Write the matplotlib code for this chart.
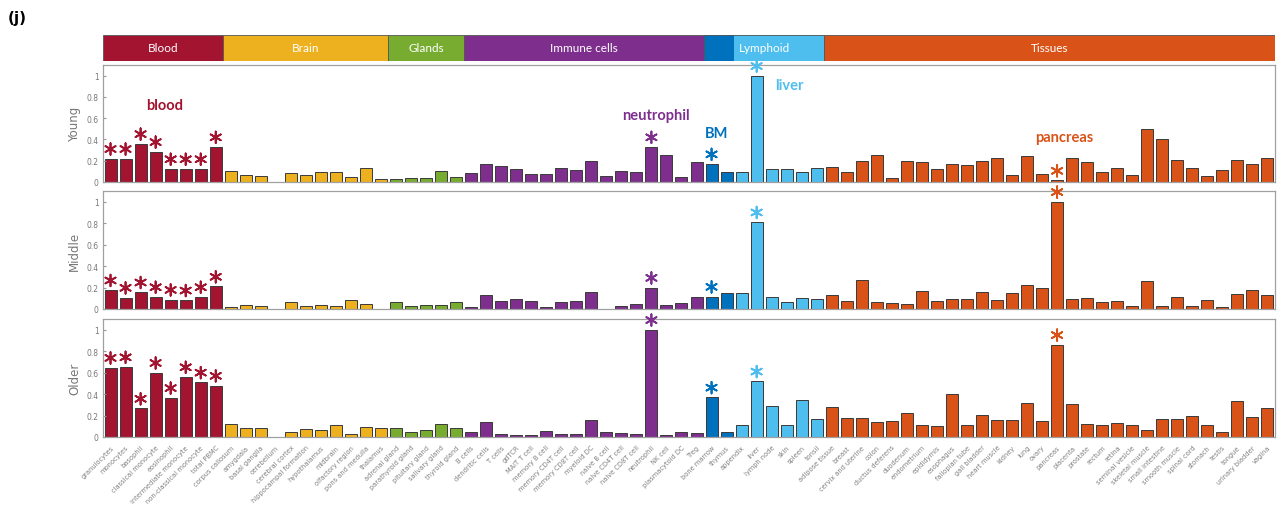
import matplotlib
matplotlib.use("Agg")
import matplotlib.pyplot as plt
import numpy as np

# ---- categories -----------------------------------------------------------
blood_cats = ["granulocytes", "monocytes", "basophil", "classical monocyte",
              "eosinophil", "intermediate monocyte", "non-classical monocyte",
              "total PBMC"]
brain_cats = ["corpus callosum", "amygdala", "basal ganglia", "cerebellum",
              "cerebral cortex", "hippocampal formation", "hypothalamus",
              "midbrain", "olfactory region", "pons and medulla", "thalamus"]
gland_cats = ["adrenal gland", "parathyroid gland", "pituitary gland",
              "salivary gland", "thyroid gland"]
immune_cats = ["B cells", "dendritic cells", "T cells", "gdTCR", "MAIT T cell",
               "memory B cell", "memory CD4T cell", "memory CD8T cell",
               "myeloid DC", "naive B cell", "naive CD4T cell", "naive CD8T cell",
               "neutrophil", "NK cell", "plasmacytoid DC", "Treg"]
lymphoid_cats = ["bone marrow", "thymus", "appendix", "liver", "lymph node",
                 "skin", "spleen", "tonsil"]
tissue_cats = ["adipose tissue", "breast", "cervix and uterine", "colon",
               "ductus deferens", "duodenum", "endometrium", "epididymis",
               "esophagus", "fallopian tube", "gall bladder", "heart muscle",
               "kidney", "lung", "ovary", "pancreas", "placenta", "prostate",
               "rectum", "retina", "seminal vesicle", "skeletal muscle",
               "small intestine", "smooth muscle", "spinal cord", "stomach",
               "testis", "tongue", "urinary bladder", "vagina"]

group_names = ["Blood", "Brain", "Glands", "Immune cells", "Lymphoid", "Tissues"]
group_cats = [blood_cats, brain_cats, gland_cats, immune_cats, lymphoid_cats, tissue_cats]
categories = [c for g in group_cats for c in g]

# ---- normalised values per age group ---------------------------------------
young = ([0.22, 0.22, 0.36, 0.285, 0.124, 0.124, 0.124, 0.33] +
         [0.10, 0.07, 0.06, 0.0, 0.08, 0.07, 0.09, 0.09, 0.05, 0.13, 0.025] +
         [0.028, 0.04, 0.04, 0.10, 0.05] +
         [0.08, 0.17, 0.15, 0.12, 0.075, 0.075, 0.13, 0.115, 0.20, 0.06, 0.105,
          0.09, 0.33, 0.25, 0.05, 0.19] +
         [0.17, 0.09, 0.09, 1.0, 0.12, 0.12, 0.09, 0.135] +
         [0.14, 0.09, 0.195, 0.25, 0.04, 0.195, 0.185, 0.124, 0.17, 0.164,
          0.195, 0.23, 0.068, 0.24, 0.077, 0.015, 0.23, 0.19, 0.09, 0.136,
          0.065, 0.50, 0.40, 0.21, 0.127, 0.053, 0.115, 0.21, 0.17, 0.23])

middle = ([0.176, 0.107, 0.157, 0.113, 0.088, 0.082, 0.113, 0.21] +
          [0.016, 0.04, 0.03, 0.0, 0.063, 0.03, 0.04, 0.03, 0.088, 0.05, 0.0] +
          [0.063, 0.03, 0.04, 0.04, 0.066] +
          [0.016, 0.13, 0.072, 0.09, 0.079, 0.019, 0.069, 0.075, 0.157, 0.0,
           0.025, 0.047, 0.20, 0.04, 0.053, 0.116] +
          [0.116, 0.15, 0.15, 0.81, 0.113, 0.063, 0.10, 0.09] +
          [0.13, 0.07, 0.27, 0.063, 0.057, 0.047, 0.17, 0.07, 0.097, 0.09,
           0.163, 0.082, 0.148, 0.226, 0.195, 1.0, 0.097, 0.10, 0.063, 0.079,
           0.03, 0.26, 0.03, 0.113, 0.03, 0.085, 0.016, 0.14, 0.18, 0.135])

older = ([0.647, 0.653, 0.266, 0.60, 0.366, 0.56, 0.51, 0.48] +
         [0.122, 0.084, 0.084, 0.0, 0.047, 0.075, 0.066, 0.116, 0.025, 0.097, 0.084] +
         [0.0875, 0.047, 0.066, 0.125, 0.084] +
         [0.05, 0.137, 0.03, 0.019, 0.022, 0.053, 0.025, 0.025, 0.163, 0.05,
          0.04, 0.028, 1.0, 0.018, 0.044, 0.038] +
         [0.37, 0.044, 0.116, 0.52, 0.29, 0.116, 0.344, 0.17] +
         [0.278, 0.18, 0.18, 0.14, 0.15, 0.22, 0.11, 0.10, 0.40, 0.11, 0.206,
          0.16, 0.16, 0.32, 0.147, 0.86, 0.306, 0.122, 0.11, 0.134, 0.11,
          0.066, 0.17, 0.17, 0.20, 0.116, 0.05, 0.334, 0.184, 0.266])

panel_names = ["Young", "Middle", "Older"]
panel_values = [young, middle, older]

# categories marked with an asterisk (same in every age group)
starred = blood_cats + ["neutrophil", "bone marrow", "liver", "pancreas"]

# ---- colours -----------------------------------------------------------------
group_colors = ["#A2142F", "#EDB120", "#77AC30", "#7E2F8E", "#4DBEEE", "#D95319"]
bm_color = "#0072BD"          # bone marrow and thymus
dark_lymphoid = ["bone marrow", "thymus"]

bar_colors = []
for gc, cats in zip(group_colors, group_cats):
    for c in cats:
        bar_colors.append(bm_color if c in dark_lymphoid else gc)

n = len(categories)
x = np.arange(n)

W, H = 1283, 510
fig = plt.figure(figsize=(W / 100, H / 100), dpi=100)
left, width = 103 / W, 1172 / W

def fy(top_px, bottom_px):
    return [left, 1 - bottom_px / H, width, (bottom_px - top_px) / H]

# ---- group header strip ------------------------------------------------------
hax = fig.add_axes(fy(36, 62))
start = -0.5
for name, cats, gc in zip(group_names, group_cats, group_colors):
    end = start + len(cats)
    if name == "Lymphoid":
        k = len(dark_lymphoid)
        hax.add_patch(plt.Rectangle((start, 0), k, 1, facecolor=bm_color,
                                    edgecolor="none"))
        hax.add_patch(plt.Rectangle((start + k, 0), len(cats) - k, 1,
                                    facecolor=gc, edgecolor="none"))
        hax.add_patch(plt.Rectangle((start, 0), len(cats), 1, facecolor="none",
                                    edgecolor="#555555", lw=0.6))
    else:
        hax.add_patch(plt.Rectangle((start, 0), len(cats), 1, facecolor=gc,
                                    edgecolor="#555555", lw=0.6))
    hax.text((start + end) / 2, 0.5, name, ha="center", va="center",
             color="white", fontsize=8.5, family="Lato")
    start = end
hax.set_xlim(-0.5, n - 0.5)
hax.set_ylim(0, 1)
hax.axis("off")

# ---- bar panels --------------------------------------------------------------
panel_px = [(66, 183), (192, 310), (320, 438)]
star_colors = {c: bar_colors[categories.index(c)] for c in starred}

axes = []
for (t, b), name, vals in zip(panel_px, panel_names, panel_values):
    ax = fig.add_axes(fy(t, b))
    ax.bar(x, vals, width=0.8, color=bar_colors, edgecolor="#3a3a3a",
           linewidth=0.7)
    sx = [categories.index(c) for c in starred]
    sy = [vals[i] + 0.09 for i in sx]
    ax.scatter(sx, sy, marker=(6, 2, 0), s=70, linewidths=1.3,
               c=[star_colors[c] for c in starred], zorder=5, clip_on=False)
    ax.set_xlim(-0.5, n - 0.5)
    ax.set_ylim(0, 1.1)
    ax.set_yticks([0, 0.2, 0.4, 0.6, 0.8, 1])
    ax.set_yticklabels(["0", "0.2", "0.4", "0.6", "0.8", "1"])
    ax.tick_params(axis="y", labelsize=5.5, labelcolor="#777777", length=2,
                   direction="in", color="#999999", pad=3)
    ax.tick_params(axis="x", length=0)
    ax.set_ylabel(name, fontsize=8.5, color="#777777", labelpad=4)
    for sp in ax.spines.values():
        sp.set_color("#a0a0a0")
        sp.set_linewidth(0.9)
    ax.set_xticks(x)
    if name == "Older":
        ax.set_xticklabels(categories, rotation=45, ha="right",
                           rotation_mode="anchor", fontsize=4.8,
                           color="#808080")
        ax.tick_params(axis="x", pad=5)
    else:
        ax.set_xticklabels([])
    axes.append(ax)

# ---- annotations on the top panel -------------------------------------------
ay = axes[0]
lab_kw = dict(family="Lato", fontweight="bold", fontsize=10.5)
ay.text(3.6, 0.72, "blood", color=group_colors[0], ha="center", va="center", **lab_kw)
ay.text(categories.index("neutrophil") + 0.3, 0.63, "neutrophil",
        color=group_colors[3], ha="center", va="center", **lab_kw)
ay.text(categories.index("bone marrow") + 0.35, 0.46, "BM", color=bm_color,
        ha="center", va="center", **lab_kw)
ay.text(categories.index("liver") + 1.2, 0.91, "liver", color=group_colors[4],
        ha="left", va="center", **lab_kw)
ay.text(categories.index("pancreas") + 0.5, 0.42, "pancreas",
        color=group_colors[5], ha="center", va="center", **lab_kw)

fig.text(8 / W, 1 - 18 / H, "(j)", fontsize=11, fontweight="bold",
         ha="left", va="center")

fig.savefig("out.png", dpi=100, facecolor="white")
